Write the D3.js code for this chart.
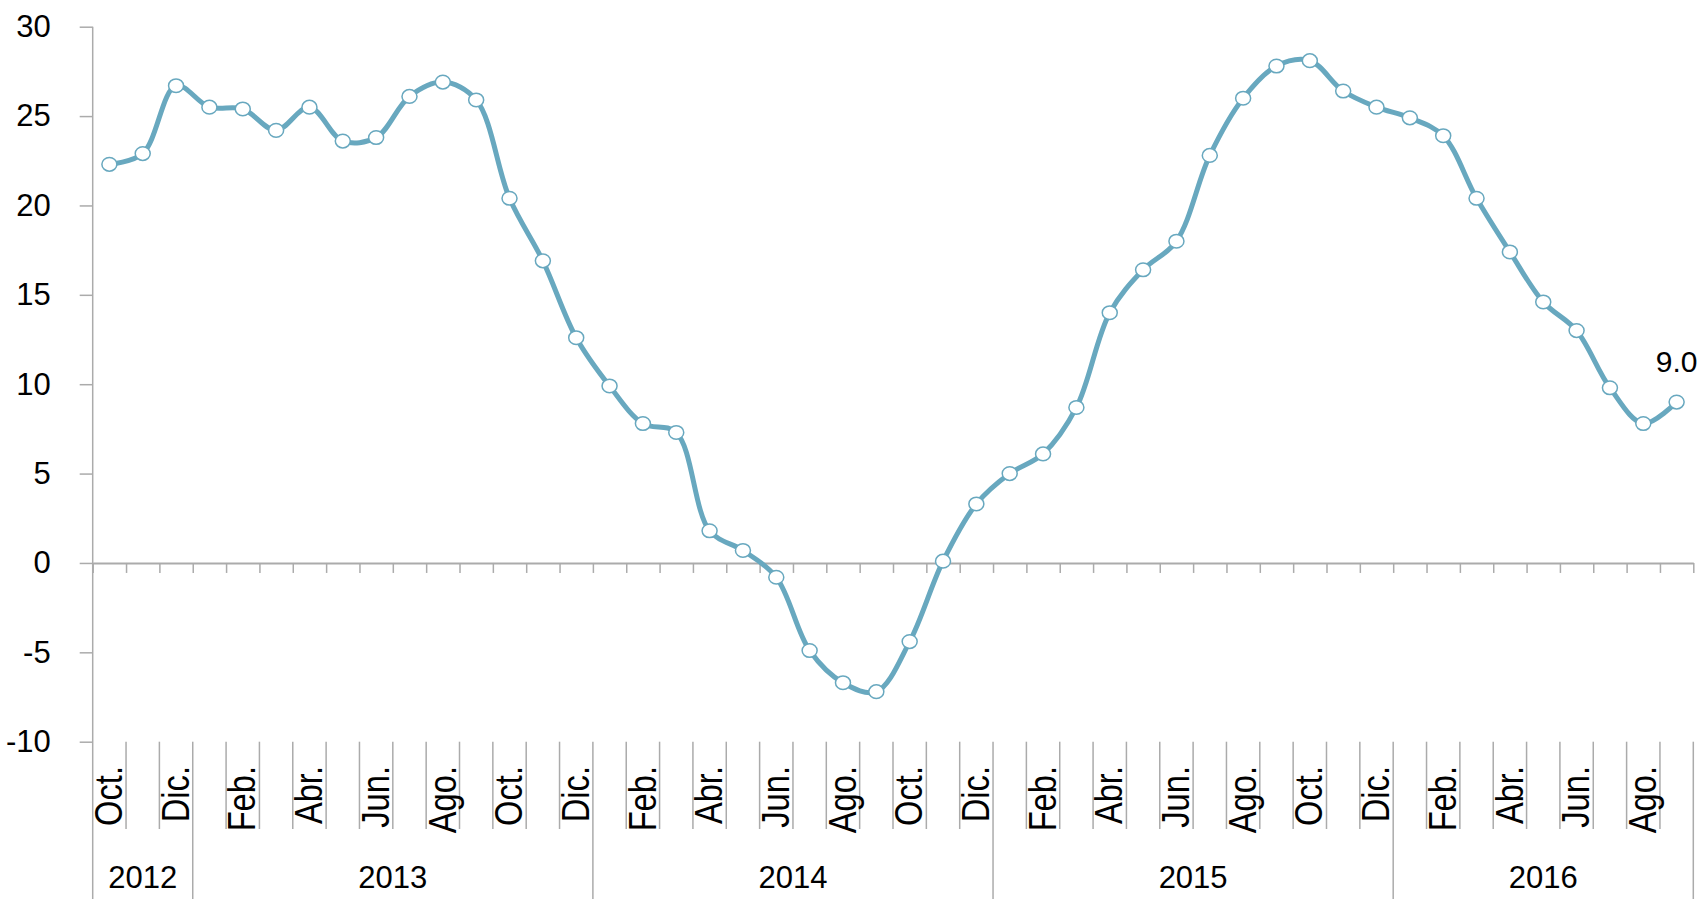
<!DOCTYPE html>
<html>
<head>
<meta charset="utf-8">
<script src="https://cdn.jsdelivr.net/npm/d3@7"></script>
<style>
	body { margin: 0; background: #fff; }
	svg { display: block; }
</style>
</head>
<body>
<svg></svg>
<script>

// one label per point, Oct. 2012 to Sep. 2016
var months = [
	'Oct.', 'Nov.', 'Dic.',
	'Ene.', 'Feb.', 'Mar.', 'Abr.', 'May.', 'Jun.', 'Jul.', 'Ago.', 'Sep.', 'Oct.', 'Nov.', 'Dic.',
	'Ene.', 'Feb.', 'Mar.', 'Abr.', 'May.', 'Jun.', 'Jul.', 'Ago.', 'Sep.', 'Oct.', 'Nov.', 'Dic.',
	'Ene.', 'Feb.', 'Mar.', 'Abr.', 'May.', 'Jun.', 'Jul.', 'Ago.', 'Sep.', 'Oct.', 'Nov.', 'Dic.',
	'Ene.', 'Feb.', 'Mar.', 'Abr.', 'May.', 'Jun.', 'Jul.', 'Ago.', 'Sep.'
];

var years = ['2012', '2013', '2014', '2015', '2016'];
// how many months of each year are on the chart
var yearMonths = [3, 12, 12, 12, 9];

var values = [
	22.3, 22.9, 26.7,
	25.5, 25.4, 24.2, 25.5, 23.6, 23.8, 26.1, 26.9, 25.9, 20.4, 16.9, 12.6,
	9.9, 7.8, 7.3, 1.8, 0.7, -0.8, -4.9, -6.7, -7.2, -4.4, 0.1, 3.3,
	5.0, 6.1, 8.7, 14.0, 16.4, 18.0, 22.8, 26.0, 27.8, 28.1, 26.4, 25.5,
	24.9, 23.9, 20.4, 17.4, 14.6, 13.0, 9.8, 7.8, 9.0
];

var yTicks = [-10, -5, 0, 5, 10, 15, 20, 25, 30];

// Some global settings
var CONF = {
	width: 1704,
	height: 899,
	left: 92.7,
	right: 1693.3,
	top: 26.7,
	bottom: 741.7,
	monthRow: 829,
	color: '#68a8bf',
	axisColor: '#ababab',
	font: '"Liberation Sans", Arial, sans-serif'
};


function drawChart() {
	var svg = d3.select('svg')
		.attr('width', CONF.width)
		.attr('height', CONF.height);

	var x = d3.scaleBand()
		.domain(d3.range(values.length))
		.range([CONF.left, CONF.right])
		.padding(0);
	var bw = x.bandwidth();

	// band edges, for the ticks and the separators
	var edge = d3.scaleLinear()
		.domain([0, values.length])
		.range([CONF.left, CONF.right]);

	var y = d3.scaleLinear()
		.domain([-10, 30])
		.range([CONF.bottom, CONF.top]);

	// left axis, plain hyphen for the negatives
	var yg = svg.append('g')
		.attr('transform', 'translate(' + CONF.left + ',0)')
		.call(d3.axisLeft(y)
			.tickValues(yTicks)
			.tickFormat(function(d) { return '' + d; })
			.tickSize(13)
			.tickPadding(29));
	yg.select('.domain').remove();
	yg.selectAll('.tick line')
		.attr('stroke', CONF.axisColor)
		.attr('stroke-width', 1.5);
	yg.selectAll('.tick text')
		.attr('fill', '#000')
		.style('font-family', CONF.font)
		.style('font-size', '31px');

	// the axis line runs down through the label rows
	svg.append('line')
		.attr('x1', CONF.left).attr('x2', CONF.left)
		.attr('y1', CONF.top).attr('y2', CONF.height)
		.attr('stroke', CONF.axisColor)
		.attr('stroke-width', 1.5);

	// zero line with a tick per month
	var xg = svg.append('g')
		.attr('transform', 'translate(0,' + y(0) + ')')
		.call(d3.axisBottom(edge)
			.tickValues(d3.range(values.length + 1))
			.tickFormat('')
			.tickSize(10)
			.tickSizeOuter(0));
	xg.select('.domain')
		.attr('stroke', CONF.axisColor)
		.attr('stroke-width', 2);
	xg.selectAll('.tick line')
		.attr('stroke', CONF.axisColor)
		.attr('stroke-width', 1.5);

	// year boundaries
	var yearStart = [0];
	yearMonths.forEach(function(m, i) {
		yearStart.push(yearStart[i] + m);
	});

	// month separators, longer at year boundaries
	svg.append('g')
		.selectAll('line')
		.data(d3.range(1, values.length + 1))
		.enter()
		.append('line')
			.attr('x1', function(d) { return edge(d); })
			.attr('x2', function(d) { return edge(d); })
			.attr('y1', CONF.bottom)
			.attr('y2', function(d) {
				return yearStart.indexOf(d) >= 0 ? CONF.height : CONF.monthRow;
			})
			.attr('stroke', CONF.axisColor)
			.attr('stroke-width', 1.5);

	// month labels, every other one, squeezed a little along the text
	svg.append('g')
		.selectAll('text')
		.data(months)
		.enter()
		.filter(function(d, i) { return i % 2 == 0; })
		.append('text')
			.attr('transform', function(d, i) {
				return 'translate(' + (x(i * 2) + bw - 4) + ',766) rotate(-90) scale(0.86,1)';
			})
			.attr('text-anchor', 'end')
			.style('font-family', CONF.font)
			.style('font-size', '38px')
			.text(function(d) { return d; });

	// year labels
	svg.append('g')
		.selectAll('text')
		.data(years)
		.enter()
		.append('text')
			.attr('x', function(d, i) {
				return (edge(yearStart[i]) + edge(yearStart[i + 1])) / 2;
			})
			.attr('y', 888)
			.attr('text-anchor', 'middle')
			.style('font-family', CONF.font)
			.style('font-size', '31px')
			.text(function(d) { return d; });

	// the smoothed line
	var line = d3.line()
		.x(function(d, i) { return x(i) + bw / 2; })
		.y(function(d) { return y(d); })
		.curve(d3.curveCatmullRom);

	svg.append('path')
		.datum(values)
		.attr('d', line)
		.attr('fill', 'none')
		.attr('stroke', CONF.color)
		.attr('stroke-width', 5)
		.attr('stroke-linejoin', 'round');

	// markers
	svg.append('g')
		.selectAll('ellipse')
		.data(values)
		.enter()
		.append('ellipse')
			.attr('cx', function(d, i) { return x(i) + bw / 2; })
			.attr('cy', function(d) { return y(d); })
			.attr('rx', 7.5)
			.attr('ry', 6.8)
			.attr('fill', '#fff')
			.attr('stroke', CONF.color)
			.attr('stroke-width', 1.5);

	// label on the last value
	var last = values.length - 1;
	svg.append('text')
		.attr('x', x(last) + bw / 2)
		.attr('y', y(values[last]) - 30)
		.attr('text-anchor', 'middle')
		.style('font-family', CONF.font)
		.style('font-size', '30px')
		.text(d3.format('.1f')(values[last]));
}

drawChart();

</script>
</body>
</html>
